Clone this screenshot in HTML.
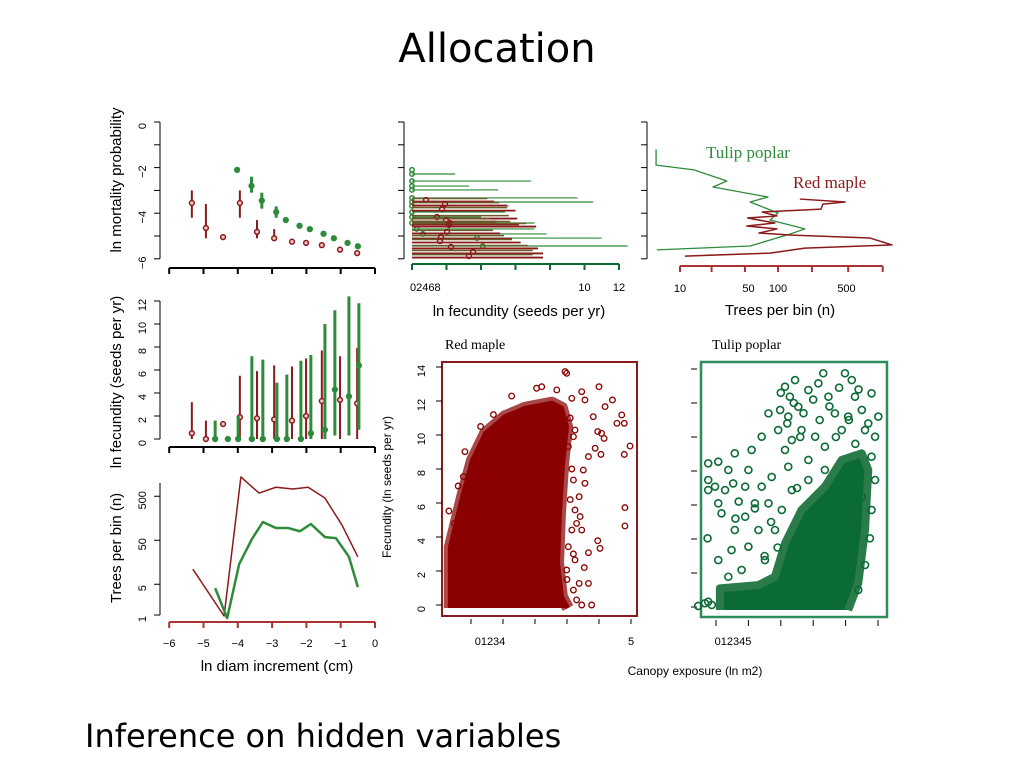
<!DOCTYPE html>
<html><head><meta charset="utf-8"><style>
html,body{margin:0;padding:0;background:#fff}
svg{display:block;font-family:"Liberation Sans",sans-serif}
</style></head><body>
<svg id="s" width="1024" height="768" viewBox="0 0 1024 768" xmlns="http://www.w3.org/2000/svg">
<text x="497" y="62" text-anchor="middle" font-family="DejaVu Sans,sans-serif" font-size="40">Allocation</text>
<text x="85" y="747" font-family="DejaVu Sans,sans-serif" font-size="32">Inference on hidden variables</text>
<text transform="translate(121,180) rotate(-90)" text-anchor="middle" font-size="15">ln mortality probability</text>
<text transform="translate(121,382) rotate(-90)" text-anchor="middle" font-size="15">ln fecundity (seeds per yr)</text>
<text transform="translate(121,548) rotate(-90)" text-anchor="middle" font-size="15">Trees per bin (n)</text>
<text x="277" y="671" text-anchor="middle" font-size="15">ln diam increment (cm)</text>
<text x="519" y="316" text-anchor="middle" font-size="15">ln fecundity (seeds per yr)</text>
<text x="780" y="315" text-anchor="middle" font-size="15">Trees per bin (n)</text>
<text transform="translate(391,487) rotate(-90)" text-anchor="middle" font-size="12">Fecundity (ln seeds per yr)</text>
<text x="695" y="675" text-anchor="middle" font-size="12">Canopy exposure (ln m2)</text>
<text x="445" y="349" font-family="Liberation Serif,serif" font-size="14">Red maple</text>
<text x="712" y="349" font-family="Liberation Serif,serif" font-size="14">Tulip poplar</text>
<text x="706" y="158" font-family="Liberation Serif,serif" font-size="17" fill="#2e8b3a">Tulip poplar</text>
<text x="793" y="188" font-family="Liberation Serif,serif" font-size="17" fill="#8b1a1a">Red maple</text>
<g id="g"></g>
</svg>
<script>
// ---- data ----
const mortRedX=[-5.34,-4.93,-4.43,-3.94,-3.44,-2.94,-2.42,-2.01,-1.55,-1.02,-0.52];
const mortRedY=[-3.55,-4.65,-5.05,-3.55,-4.82,-5.1,-5.25,-5.3,-5.4,-5.6,-5.75];
const mortRedLo=[-4.2,-5.1,null,-4.2,-5.1,-5.2,null,null,null,null,null];
const mortRedHi=[-3.0,-3.6,null,-3.0,-4.3,-4.7,null,null,null,null,null];
const mortGrnX=[-4.02,-3.6,-3.3,-2.88,-2.6,-2.2,-1.9,-1.5,-1.2,-0.8,-0.5];
const mortGrnY=[-2.1,-2.8,-3.45,-3.95,-4.3,-4.55,-4.7,-4.9,-5.1,-5.3,-5.45];
const mortGrnLo=[null,-3.1,-3.8,-4.2,null,null,null,null,null,null,null];
const mortGrnHi=[null,-2.4,-3.1,-3.7,null,null,null,null,null,null,null];
const fecRedX=[-5.34,-4.93,-4.43,-3.94,-3.44,-2.94,-2.42,-2.01,-1.55,-1.02,-0.52];
const fecRedY=[0.5,0,1.3,1.9,1.8,1.7,1.6,2.0,3.3,3.4,3.1];
const fecRedLo=[0,0,null,0,0,0,0,0,0,0,0];
const fecRedHi=[3.2,1.6,null,5.5,5.9,6.4,6.3,7.0,7.7,7.2,7.9];
const fecGrnX=[-4.66,-4.29,-3.99,-3.59,-3.27,-2.86,-2.57,-2.16,-1.87,-1.46,-1.17,-0.76,-0.47];
const fecGrnY=[0,0,0,0,0,0,0,0,0.5,0.8,4.3,3.7,6.4];
const fecGrnLo=[0,null,0,0,0,0,0,0,0,0,0.3,0.3,0.8];
const fecGrnHi=[1.6,null,2.0,7.2,6.9,4.9,5.6,6.8,7.3,10,11.2,12.4,11.8];
const treeRedX=[-5.31,-4.40,-3.91,-3.38,-2.89,-2.39,-1.95,-1.46,-0.96,-0.50];
const treeRedN=[11,0.95,1370,590,800,730,800,455,110,21];
const treeGrnX=[-4.66,-4.31,-3.96,-3.59,-3.27,-2.89,-2.54,-2.19,-1.87,-1.46,-1.14,-0.76,-0.5];
const treeGrnN=[4.1,0.85,14.4,53,130,95,95,80,117,59,56,21,4.3];
const fmGrnMort=[-2.1,-2.28,-2.59,-2.81,-2.98,-3.33,-3.51,-3.68,-3.95,-4.17,-4.43,-4.69,-4.91,-5.09,-5.44];
const fmGrnFec=[0,2.5,6.9,3.3,5.0,9.6,10.5,5.6,5.4,4.0,7.1,7.1,7.8,11.0,12.5];
const fmGrnPt=[0,0,0,0,0,0,0,0,0,0,0,0.27,0.63,3.77,4.1];
const fmRedMort=[-3.42,-3.6,-3.82,-4.17,-4.3,-4.43,-4.52,-4.82,-5.05,-5.22,-5.48,-5.7,-5.88];
const fmRedFec=[4.75,5.5,6.0,6.1,4.9,6.2,7.2,5.1,5.8,6.3,7.3,7.6,7.6];
const fmRedPt=[0.81,1.91,1.74,1.45,1.97,2.2,2.14,2.03,1.68,1.62,2.26,3.54,3.3];
const nGrnMort=[-1.2,-1.45,-1.89,-2.1,-2.59,-2.85,-3.29,-3.51,-3.99,-4.3,-4.69,-4.91,-5.44,-5.61];
const nGrnN=[5.7,5.7,5.7,13.9,30,21.7,79,52,100,83,188,133,52,5.8];
const nRedMort=[-3.38,-3.51,-3.6,-3.82,-3.95,-4.12,-4.21,-4.43,-4.56,-4.69,-4.87,-4.96,-5.09,-5.39,-5.53,-5.75,-5.88];
const nRedN=[167,484,287,275,69,97.6,49,93,48,97.6,64,139,869,1453,188,83,11.2];
const rmEnvX=[-0.66,-0.66,-0.28,0.03,0.44,1.06,1.69,2.53,2.84,3.0,2.88,2.78,2.72,2.84,3.03];
const rmEnvY=[-0.18,3.4,6.35,8.5,10.1,11.1,11.6,11.9,11.6,10.5,8.35,5.4,2.5,0.5,-0.18];
const rmX=[1.27,2.94,2.99,3.46,4.0,4.42,4.19,4.71,4.79,4.97,4.79,4.56,3.96,4.16,3.88,4.06,3.67,3.51,3.56,3.38,3.25,3.41,3.15,3.46,3.96,4.03,3.67,3.25,3.54,3.38,3.67,3.2,3.77,3.46,4.81,4.81,-0.69,-0.52,-0.19,-0.24,0.13,2.05,2.21,2.68,3.15,3.56,3.82,4.08,3.25,3.04,3.2,3.04,2.99,3.1,3.2,3.15,3.1,3.3,3.2,3.0,3.3,0.7,0.3,-0.4];
const rmY=[12.29,13.73,13.63,12.55,12.84,12.06,11.67,11.18,10.69,9.35,8.86,10.69,10.2,9.8,9.22,8.86,8.73,7.94,7.16,6.37,5.59,5.2,4.41,4.41,3.78,3.33,3.08,2.65,2.2,1.27,1.27,0.88,0,0,5.73,4.65,5.53,4.8,9.02,7.55,8.33,12.75,12.84,12.65,12.16,12.06,11.08,10.1,10.29,9.31,7.35,3.43,2.06,11.0,9.9,8.0,6.2,4.8,3.0,1.5,0.3,11.2,10.5,7.0];
const tpEnvX=[0.12,0.12,1.31,1.82,2.13,2.64,3.36,3.88,4.5,4.7,4.6,4.39,4.08];
const tpEnvY=[-0.18,1.1,1.29,1.78,3.75,5.71,7.08,8.65,9.04,8.06,4.53,1.39,-0.18];
const tpX=[2.13,2.44,2.28,1.98,2.23,2.54,2.85,3.16,3.31,3.47,3.67,3.88,3.98,4.19,4.29,4.5,4.8,5.01,4.91,4.6,4.08,3.06,2.64,2.34,1.92,1.62,1.41,2.13,2.85,3.36,2.23,-0.24,0.07,0.38,0.58,-0.24,-0.03,0.28,0.53,0.07,-0.24,1.1,1.0,0.9,-0.26,0.17,0.58,0.48,0.07,0.9,1.2,1.41,1.72,1.62,1.31,1.0,1.82,0.79,0.38,1.51,2.34,2.85,3.36,2.03,-0.55,-0.34,-0.13,-0.24,4.8,4.91,4.8,4.75,4.6,4.39,2.0,2.4,2.7,3.0,3.5,3.8,4.1,4.4,4.7,2.2,2.6,3.2,3.7,4.3,2.5,1.7,1.2,0.7,1.9,2.4,3.0,4.5,4.0,1.5,0.6];
const tpY=[12.96,13.35,12.37,11.59,11.2,11.78,12.76,13.16,13.75,12.37,11.39,10.41,13.75,13.35,12.37,11.59,12.57,11.2,10.02,10.41,11.2,10.02,10.41,9.82,10.41,11.39,10.02,9.24,8.65,9.43,8.25,8.45,8.55,8.06,9.04,7.47,7.08,6.88,7.27,6.1,6.88,9.24,8.06,7.08,4.04,5.51,4.53,3.35,2.76,5.31,6.1,7.08,7.65,6.1,4.53,3.55,4.53,2.18,1.78,2.76,6.88,7.47,8.06,5.71,0.06,0.22,0.12,0.31,8.84,7.47,5.71,4.04,2.47,1.0,12.6,12.0,11.4,12.2,11.8,12.9,11.0,12.8,10.8,10.8,10.0,11.0,10.0,9.6,7.0,5.0,5.8,6.2,3.5,2.6,4.8,6.5,7.5,3.0,5.2];
const ticksMort=[0,-1,-2,-3,-4,-5,-6], labMort=[0,-2,-4,-6];
const ticksFec=[0,2,4,6,8,10,12];
const ticksDiam=[-6,-5,-4,-3,-2,-1,0];
const ticksN=[1,5,50,500];
const ticksTopX=[0,2,4,6,8,10,12];
const ticksNx=[10,21,46,100,222,520,1170], labNx=[10,50,100,500];
const ticksScY=[0,2,4,6,8,10,12,14];
const ticksRmX=[0,1,2,3,4,5], ticksTpX=[0,1,2,3,4,5];

// ---- scales ----
const ax=v=>375+34.3*v, my=v=>122-22.8*v, fy=v=>439-11.5*v, ty=n=>615-44*Math.log10(n);
const tmx=v=>412+17.25*v, trx=n=>680+98*Math.log10(n/10);
const rx=v=>471+32*v, ry=v=>605-17*v, gx=v=>716+32.4*v, gy=v=>607-17*v;
const RED="#8b1a1a", GRN="#2e8b3a", RM="#8b0000", TP="#0b6b35";
const G=document.getElementById('g'), NS="http://www.w3.org/2000/svg";
function mk(tag,at,name){const e=document.createElementNS(NS,tag);for(const k in at)e.setAttribute(k,at[k]);


G.appendChild(e);return e;}
function line(x1,y1,x2,y2,c,w,n){return mk('line',{x1,y1,x2,y2,stroke:c,'stroke-width':w},n);}
function txt(x,y,s,sz,n,rot,anchor){const e=mk('text',{x,y,'font-size':sz,'text-anchor':anchor||'middle'},n);if(rot)e.setAttribute('transform',`rotate(-90 ${x} ${y})`);e.textContent=s;return e;}
function poly(xs,ys,c,w,n,fill){return mk('polyline',{points:xs.map((x,i)=>x+','+ys[i]).join(' '),fill:fill||'none',stroke:c,'stroke-width':w,'stroke-linejoin':'round'},n);}

function yAxis(x,vals,f,labs,n){line(x,f(vals[0]),x,f(vals[vals.length-1]),'#000',1,n+'-line');
 vals.forEach(v=>line(x-6,f(v),x,f(v),'#000',1,n+'-tick'));
 (labs||[]).forEach(v=>txt(x-14,f(v)+4,String(v).replace('-','\u2212'),11,n+'-label',true));}
yAxis(160,ticksMort,my,labMort,'mortality-y-axis');
yAxis(160,ticksFec,fy,ticksFec,'fecundity-y-axis');
line(160,ty(1),160,ty(1000),'#000',1,'trees-y-axis-line');
ticksN.forEach(v=>{line(154,ty(v),160,ty(v),'#000',1,'trees-y-tick');txt(146,ty(v)+4,String(v),11,'trees-y-label',true);});
function xAxis(y,c,n,labs){line(ax(-6),y,ax(0),y,c,2,n+'-line');ticksDiam.forEach(v=>line(ax(v),y,ax(v),y+6,c,2,n+'-tick'));
 if(labs)ticksDiam.forEach(v=>txt(ax(v),y+25,String(v).replace('-','\u2212'),11,n+'-label'));}
xAxis(268,'#000','mortality-x-axis');xAxis(447,'#000','fecundity-x-axis');xAxis(622,'#a33','diam-x-axis',true);

function errs(X,Y,L,H,fx,fyy,c,w,n,open){X.forEach((x,i)=>{if(L[i]!==null)line(fx(x),fyy(L[i]),fx(x),fyy(H[i]),c,w,n+'-bar');
 mk('circle',{cx:fx(x),cy:fyy(Y[i]),r:2.4,fill:open?'#f0c8c8':c,stroke:c,'stroke-width':1.5},n+'-point');});}
errs(mortRedX,mortRedY,mortRedLo,mortRedHi,ax,my,RED,2,'mortality-red',true);
errs(mortGrnX,mortGrnY,mortGrnLo,mortGrnHi,ax,my,GRN,3,'mortality-green',false);
errs(fecRedX,fecRedY,fecRedLo,fecRedHi,ax,fy,RED,2,'fecundity-red',true);
errs(fecGrnX,fecGrnY,fecGrnLo,fecGrnHi,ax,fy,GRN,3,'fecundity-green',false);
poly(treeRedX.map(ax),treeRedN.map(ty),RED,1.5,'trees-red-line');
poly(treeGrnX.map(ax),treeGrnN.map(ty),GRN,2.5,'trees-green-line');

line(404,my(0),404,my(-6),'#000',1,'topmid-y-line');ticksMort.forEach(v=>line(398,my(v),404,my(v),'#000',1,'topmid-y-tick'));
line(tmx(0),264,tmx(12),264,TP,2,'topmid-x-line');ticksTopX.forEach(v=>line(tmx(v),264,tmx(v),270,TP,2,'topmid-x-tick'));
txt(tmx(0)-2,291,'02468',11,'topmid-x-label','', 'start');txt(tmx(10),291,'10',11,'topmid-x-label');txt(tmx(12),291,'12',11,'topmid-x-label');
fmGrnMort.forEach((m,i)=>{if(fmGrnFec[i]>0)line(tmx(0),my(m),tmx(fmGrnFec[i]),my(m),GRN,1.2,'topmid-green-range');
 mk('circle',{cx:tmx(fmGrnPt[i]),cy:my(m),r:2.2,fill:'none',stroke:GRN,'stroke-width':1.5},'topmid-green-point');});
fmRedMort.forEach((m,i)=>{line(tmx(0),my(m)+1.5,tmx(fmRedFec[i]),my(m)+1.5,RED,1.8,'topmid-red-range');
 line(tmx(0),my(m)-1.5,tmx(fmRedFec[i]*0.92),my(m)-1.5,'#6b5a2a',1.5,'topmid-overlap-range');
 mk('circle',{cx:tmx(fmRedPt[i]),cy:my(m),r:2.4,fill:'none',stroke:RED,'stroke-width':1.5},'topmid-red-point');});

line(647,my(0),647,my(-6),'#000',1,'topright-y-line');ticksMort.forEach(v=>line(641,my(v),647,my(v),'#000',1,'topright-y-tick'));
line(trx(10),266,trx(1170),266,'#a33',2,'topright-x-line');ticksNx.forEach(v=>line(trx(v),266,trx(v),272,'#a33',2,'topright-x-tick'));
labNx.forEach(v=>txt(trx(v),292,String(v),11,'topright-x-label'));
poly(nGrnN.map(trx),nGrnMort.map(my),GRN,1.3,'topright-green-line');
poly(nRedN.map(trx),nRedMort.map(my),RED,1.5,'topright-red-line');

mk('rect',{x:442,y:362,width:195,height:254,fill:'none',stroke:RED,'stroke-width':2},'red-maple-frame');
ticksScY.forEach(v=>{line(436,ry(v),442,ry(v),'#000',1,'rm-y-tick');txt(425,ry(v)+4,String(v),11,'rm-y-label',true);});
ticksRmX.forEach(v=>line(rx(v),619,rx(v),624,'#000',1,'rm-x-tick'));
txt(490,645,'01234',11,'rm-x-label');txt(rx(5),645,'5',11,'rm-x-label');
poly(rmEnvX.map(rx),rmEnvY.map(ry),'#a84848',12,'red-maple-dense-edge','#a84848');
poly(rmEnvX.map(rx),rmEnvY.map(ry),RM,4,'red-maple-dense',RM);
rmX.forEach((x,i)=>mk('circle',{cx:rx(x),cy:ry(rmY[i]),r:2.8,fill:'none',stroke:RM,'stroke-width':1.3},'red-maple-point'));

mk('rect',{x:701,y:362,width:186,height:255,fill:'none',stroke:'#2e8b5a','stroke-width':2.5},'tulip-frame');
ticksScY.forEach(v=>line(691,gy(v),697,gy(v),'#000',1,'tp-y-tick'));
ticksTpX.forEach(v=>line(gx(v),620,gx(v),626,'#000',1,'tp-x-tick'));
txt(733,645,'012345',11,'tp-x-label');
poly(tpEnvX.map(gx),tpEnvY.map(gy),'#2a7a4a',8,'tulip-dense',TP);
tpX.forEach((x,i)=>mk('circle',{cx:gx(x),cy:gy(tpY[i]),r:3.5,fill:'none',stroke:TP,'stroke-width':1.6},'tulip-point'));
</script>
</body></html>
